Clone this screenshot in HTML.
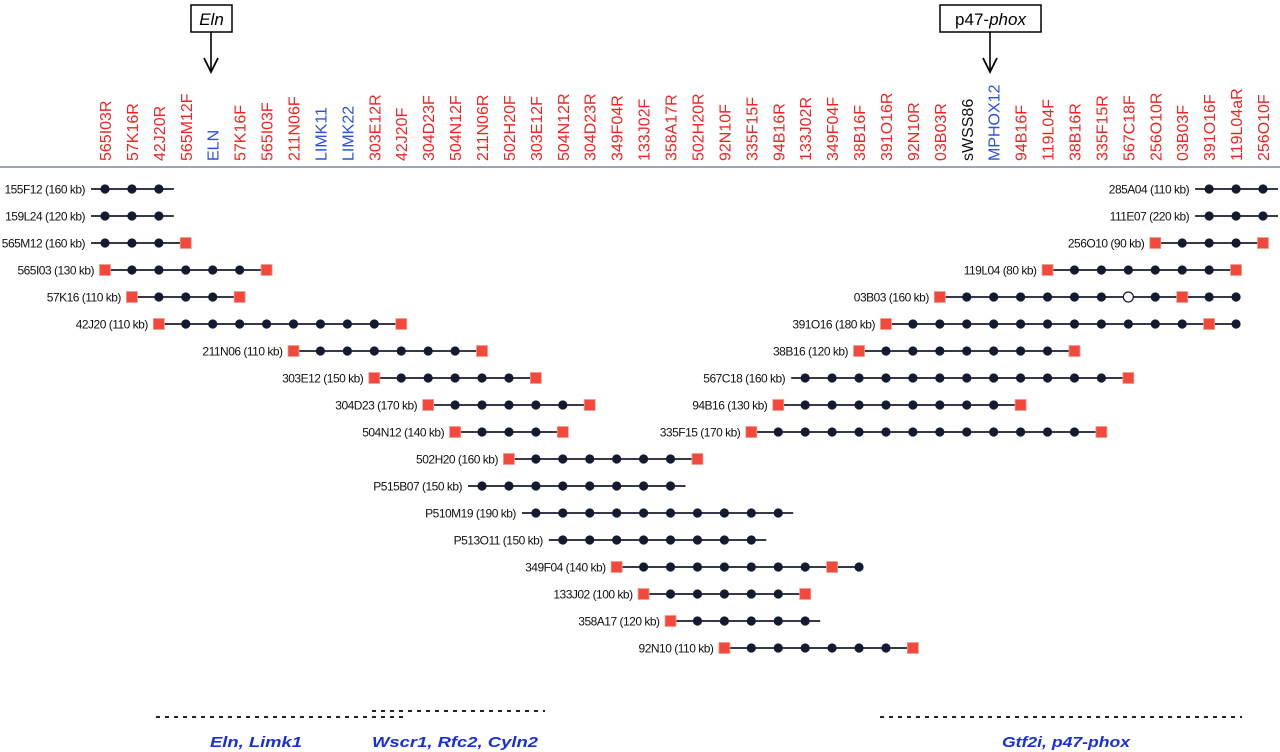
<!DOCTYPE html>
<html><head><meta charset="utf-8">
<style>
html,body{margin:0;padding:0;background:#fff;}
svg{display:block;font-family:"Liberation Sans",Arial,sans-serif;}
</style></head>
<body>
<svg id="chart" width="1280" height="752" viewBox="0 0 1280 752" xmlns="http://www.w3.org/2000/svg">
  <g>
    <rect x="191" y="5" width="41" height="27" fill="#fff" stroke="#000" stroke-width="1.5"/>
    <text x="211.5" y="25" font-size="17" font-style="italic" text-anchor="middle">Eln</text>
    <line x1="211" y1="32" x2="211" y2="70" stroke="#000" stroke-width="1.6"/>
    <path d="M204 58 L211 72 L218 58" fill="none" stroke="#000" stroke-width="1.8"/>
  </g>
  <g>
    <rect x="940" y="5" width="101" height="27" fill="#fff" stroke="#000" stroke-width="1.5"/>
    <text x="990.5" y="25" font-size="17" text-anchor="middle">p47-<tspan font-style="italic">phox</tspan></text>
    <line x1="990" y1="32" x2="990" y2="70" stroke="#000" stroke-width="1.6"/>
    <path d="M983 58 L990 72 L997 58" fill="none" stroke="#000" stroke-width="1.8"/>
  </g>
  <line x1="0" y1="167" x2="1280" y2="167" stroke="#7a86a0" stroke-width="1.5"/>
  <g id="markers"></g>
  <g id="clones"></g>
  <g>
    <line x1="156" y1="717" x2="405" y2="717" stroke="#222" stroke-width="2" stroke-dasharray="4,5"/>
    <line x1="372" y1="711" x2="545" y2="711" stroke="#222" stroke-width="2" stroke-dasharray="4,5"/>
    <line x1="880" y1="717" x2="1242" y2="717" stroke="#222" stroke-width="2" stroke-dasharray="4,5"/>
    <text x="256" y="747" font-size="15" font-weight="bold" font-style="italic" fill="#1a2fd8" text-anchor="middle" textLength="92" lengthAdjust="spacingAndGlyphs">Eln, Limk1</text>
    <text x="455" y="747" font-size="15" font-weight="bold" font-style="italic" fill="#1a2fd8" text-anchor="middle" textLength="166" lengthAdjust="spacingAndGlyphs">Wscr1, Rfc2, Cyln2</text>
    <text x="1066" y="747" font-size="15" font-weight="bold" font-style="italic" fill="#1a2fd8" text-anchor="middle" textLength="128" lengthAdjust="spacingAndGlyphs">Gtf2i, p47-phox</text>
  </g>
</svg>
<script>
// marker columns (categories)
const markerNames = ["565I03R","57K16R","42J20R","565M12F","ELN","57K16F","565I03F","211N06F","LIMK11","LIMK22","303E12R","42J20F","304D23F","504N12F","211N06R","502H20F","303E12F","504N12R","304D23R","349F04R","133J02F","358A17R","502H20R","92N10F","335F15F","94B16R","133J02R","349F04F","38B16F","391O16R","92N10R","03B03R","sWSS86","MPHOX12","94B16F","119L04F","38B16R","335F15R","567C18F","256O10R","03B03F","391O16F","119L04aR","256O10F"];
const markerTypes = ["r","r","r","r","b","r","r","r","b","b","r","r","r","r","r","r","r","r","r","r","r","r","r","r","r","r","r","r","r","r","r","r","k","b","r","r","r","r","r","r","r","r","r","r"];
// clone rows: name, size label, start column, pattern (S=end marker, D=STS dot, O=negative, '-'=line extension)
const cloneNames = ["155F12","159L24","565M12","565I03","57K16","42J20","211N06","303E12","304D23","504N12","502H20","P515B07","P510M19","P513O11","349F04","133J02","358A17","92N10"];
const cloneSizes = ["160","120","160","130","110","110","110","150","170","140","160","150","190","150","140","100","120","110"];
const cloneStarts = [0,0,0,0,1,2,7,10,12,13,15,14,16,17,19,20,21,23];
const clonePatterns = ["-DDD-","-DDD-","-DDDS","SDDDDDS","SDDDS","SDDDDDDDDS","SDDDDDDS","SDDDDDS","SDDDDDS","SDDDS","SDDDDDDS","-DDDDDDDD-","-DDDDDDDDDD-","-DDDDDDDD-","SDDDDDDDSD","SDDDDDS","SDDDDD-","SDDDDDDS"];
const rightNames = ["285A04","111E07","256O10","119L04","03B03","391O16","38B16","567C18","94B16","335F15"];
const rightSizes = ["110","220","90","80","160","180","120","160","130","170"];
const rightStarts = [41,41,39,35,31,29,28,26,25,24];
const rightPatterns = ["-DDD-","-DDD-","SDDDS","SDDDDDDS","SDDDDDDODSDD","SDDDDDDDDDDDSD","SDDDDDDDS","-DDDDDDDDDDDDS","SDDDDDDDDS","SDDDDDDDDDDDDS"];

const NS="http://www.w3.org/2000/svg";
const X0=105, STEP=26.93, ROW0=189, ROWSTEP=27;
function colX(c){return X0+c*STEP;}
function rowY(r){return ROW0+r*ROWSTEP;}
const colorMap={r:"#f52222",b:"#2a4fe0",k:"#111"};

const mg=document.getElementById("markers");
markerNames.forEach((m,i)=>{
  const t=document.createElementNS(NS,"text");
  
  
  const x=colX(i)+6, y=161;
  t.setAttribute("x",x);t.setAttribute("y",y);
  t.setAttribute("transform","rotate(-90 "+x+" "+y+")");
  t.setAttribute("font-size","16");
  t.setAttribute("fill",colorMap[markerTypes[i]]);
  t.textContent=m;
  mg.appendChild(t);
});

const cg=document.getElementById("clones");
function drawClone(name,size,start,pat,row){
  const g=document.createElementNS(NS,"g");
  
  
  const y=rowY(row);
  const chars=pat.split("");
  let c=start; const items=[];
  let x1=null,x2=null;
  chars.forEach((ch,idx)=>{
    if(ch==='-'){
      if(idx===0){x1=colX(start)-14;}
      else{x2=colX(c-1)+15;}
    } else {
      items.push([ch,colX(c)]);
      if(x1===null) x1=colX(c);
      x2=colX(c);
      c++;
    }
  });
  const ln=document.createElementNS(NS,"line");
  
  
  ln.setAttribute("x1",x1);ln.setAttribute("x2",x2);ln.setAttribute("y1",y);ln.setAttribute("y2",y);
  ln.setAttribute("stroke","#1a1e2e");ln.setAttribute("stroke-width","1.8");
  g.appendChild(ln);
  items.forEach(([ch,x])=>{
    let el;
    if(ch==='S'){
      el=document.createElementNS(NS,"rect");
      
      
      el.setAttribute("x",x-5.5);el.setAttribute("y",y-5.5);el.setAttribute("width",11);el.setAttribute("height",11);
      el.setAttribute("fill","#f5483c");el.setAttribute("stroke","#e8a090");el.setAttribute("stroke-width","0.8");
    } else {
      el=document.createElementNS(NS,"circle");
      
      
      el.setAttribute("cx",x);el.setAttribute("cy",y);el.setAttribute("r",ch==='O'?5:4.6);
      el.setAttribute("fill",ch==='O'?"#fff":"#141a30");
      if(ch==='O'){el.setAttribute("stroke","#141a30");el.setAttribute("stroke-width","1.2");}
    }
    g.appendChild(el);
  });
  const t=document.createElementNS(NS,"text");
  
  
  const first=chars[0]==='S'?x1-11:x1-6;
  t.setAttribute("x",first);t.setAttribute("y",y+4.5);
  t.setAttribute("text-anchor","end");t.setAttribute("font-size","12");
  t.setAttribute("letter-spacing","-0.5");t.setAttribute("fill","#111");
  t.textContent=name+" ("+size+" kb)";
  g.appendChild(t);
  cg.appendChild(g);
}
cloneNames.forEach((n,i)=>drawClone(n,cloneSizes[i],cloneStarts[i],clonePatterns[i],i));
rightNames.forEach((n,i)=>drawClone(n,rightSizes[i],rightStarts[i],rightPatterns[i],i));
</script>
</body></html>
